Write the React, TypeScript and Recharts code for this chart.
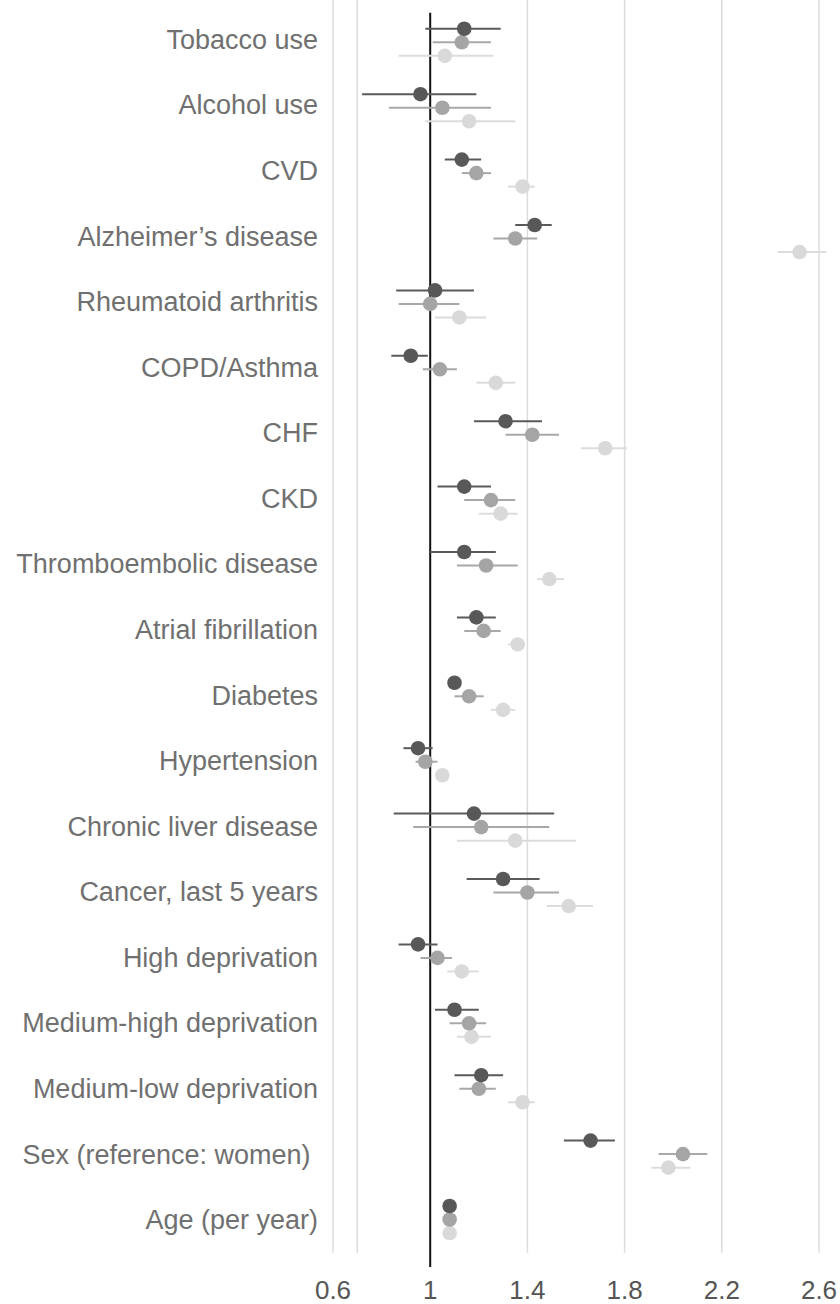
import React from 'react';
import {
  ScatterChart,
  Scatter,
  XAxis,
  YAxis,
  ErrorBar,
  ReferenceLine,
} from 'recharts';

const categories = [
  'Tobacco use',
  'Alcohol use',
  'CVD',
  'Alzheimer’s disease',
  'Rheumatoid arthritis',
  'COPD/Asthma',
  'CHF',
  'CKD',
  'Thromboembolic disease',
  'Atrial fibrillation',
  'Diabetes',
  'Hypertension',
  'Chronic liver disease',
  'Cancer, last 5 years',
  'High deprivation',
  'Medium-high deprivation',
  'Medium-low deprivation',
  'Sex (reference: women)\u00a0',
  'Age (per year)',
];

// dark series
const darkEst = [1.14, 0.96, 1.13, 1.43, 1.02, 0.92, 1.31, 1.14, 1.14, 1.19, 1.10, 0.95, 1.18, 1.30, 0.95, 1.10, 1.21, 1.66, 1.08];
const darkLo = [0.98, 0.72, 1.06, 1.35, 0.86, 0.84, 1.18, 1.03, 1.00, 1.11, 1.08, 0.89, 0.85, 1.15, 0.87, 1.02, 1.10, 1.55, 1.07];
const darkHi = [1.29, 1.19, 1.21, 1.50, 1.18, 0.99, 1.46, 1.25, 1.27, 1.27, 1.12, 1.01, 1.51, 1.45, 1.03, 1.20, 1.30, 1.76, 1.09];

// medium series
const midEst = [1.13, 1.05, 1.19, 1.35, 1.00, 1.04, 1.42, 1.25, 1.23, 1.22, 1.16, 0.98, 1.21, 1.40, 1.03, 1.16, 1.20, 2.04, 1.08];
const midLo = [1.01, 0.83, 1.13, 1.26, 0.87, 0.97, 1.31, 1.14, 1.11, 1.14, 1.10, 0.94, 0.93, 1.26, 0.96, 1.08, 1.12, 1.94, 1.07];
const midHi = [1.25, 1.25, 1.25, 1.44, 1.12, 1.11, 1.53, 1.35, 1.36, 1.29, 1.22, 1.03, 1.49, 1.53, 1.09, 1.23, 1.27, 2.14, 1.09];

// light series
const lightEst = [1.06, 1.16, 1.38, 2.52, 1.12, 1.27, 1.72, 1.29, 1.49, 1.36, 1.30, 1.05, 1.35, 1.57, 1.13, 1.17, 1.38, 1.98, 1.08];
const lightLo = [0.87, 0.98, 1.32, 2.43, 1.02, 1.19, 1.62, 1.20, 1.44, 1.32, 1.25, 1.02, 1.11, 1.48, 1.07, 1.11, 1.32, 1.91, 1.07];
const lightHi = [1.26, 1.35, 1.43, 2.63, 1.23, 1.35, 1.81, 1.36, 1.55, 1.39, 1.35, 1.07, 1.60, 1.67, 1.20, 1.25, 1.43, 2.07, 1.09];

const xTicks = [0.6, 1, 1.4, 1.8, 2.2, 2.6];
const gridXs = [0.6, 0.7, 1.4, 1.8, 2.2, 2.6];

const Y_MIN = -0.647;
const Y_MAX = 18.726;
const ROW_SHIFT = 0.207;
const FONT = 'Liberation Sans, Arial, sans-serif';

const toRows = (est: number[], lo: number[], hi: number[], shift: number) =>
  est.map((v, i) => ({
    x: v,
    y: i + shift,
    err: [v - lo[i], hi[i] - v],
  }));

const darkRows = toRows(darkEst, darkLo, darkHi, -ROW_SHIFT);
const midRows = toRows(midEst, midLo, midHi, 0);
const lightRows = toRows(lightEst, lightLo, lightHi, ROW_SHIFT);

const dot = (fill: string) => (props: any) =>
  <circle cx={props.cx} cy={props.cy} r={7.3} fill={fill} />;

// labels sit a touch above the middle dot near the top, level with it at the bottom
const CategoryTick = (props: any) => {
  const { x, y, payload } = props;
  const i = payload.value as number;
  const lift = 3 * (1 - i / (categories.length - 1));
  return (
    <text x={x} y={y - lift} dy="0.355em" textAnchor="end" fontSize={27} fill="#707070" fontFamily={FONT}>
      {categories[i]}
    </text>
  );
};

export default function App() {
  return (
    <div style={{ position: 'absolute', left: 0, top: 0, width: 840, height: 1304, background: '#fff' }}>
      <ScatterChart width={840} height={1304} margin={{ top: 0, right: 21, left: 0, bottom: 7 }}>
        <XAxis
          type="number"
          dataKey="x"
          domain={[0.6, 2.6]}
          ticks={xTicks}
          tickFormatter={(v: number) => String(v)}
          axisLine={false}
          tickLine={false}
          tickSize={0}
          tickMargin={14}
          height={30}
          interval={0}
          allowDataOverflow
          tick={{ fontSize: 26, fill: '#555', fontFamily: FONT }}
        />
        <YAxis
          type="number"
          dataKey="y"
          reversed
          domain={[Y_MIN, Y_MAX]}
          ticks={categories.map((_, i) => i)}
          axisLine={false}
          tickLine={false}
          tickSize={0}
          tickMargin={15}
          width={333}
          interval={0}
          allowDataOverflow
          tick={<CategoryTick />}
        />
        {gridXs.map(gx => (
          <ReferenceLine
            key={gx}
            segment={[{ x: gx, y: Y_MIN }, { x: gx, y: 18.51 }]}
            stroke="#dcdcdc"
            strokeWidth={1.5}
            ifOverflow="visible"
          />
        ))}
        <ReferenceLine
          segment={[{ x: 1, y: -0.453 }, { x: 1, y: Y_MAX }]}
          stroke="#111"
          strokeWidth={2}
          ifOverflow="visible"
        />
        <Scatter data={lightRows} shape={dot('#d9d9d9')} isAnimationActive={false}>
          <ErrorBar dataKey="err" direction="x" width={0} stroke="#dcdcdc" strokeWidth={2} />
        </Scatter>
        <Scatter data={midRows} shape={dot('#a5a5a5')} isAnimationActive={false}>
          <ErrorBar dataKey="err" direction="x" width={0} stroke="#a8a8a8" strokeWidth={2} />
        </Scatter>
        <Scatter data={darkRows} shape={dot('#585858')} isAnimationActive={false}>
          <ErrorBar dataKey="err" direction="x" width={0} stroke="#5a5a5a" strokeWidth={2} />
        </Scatter>
      </ScatterChart>
    </div>
  );
}
